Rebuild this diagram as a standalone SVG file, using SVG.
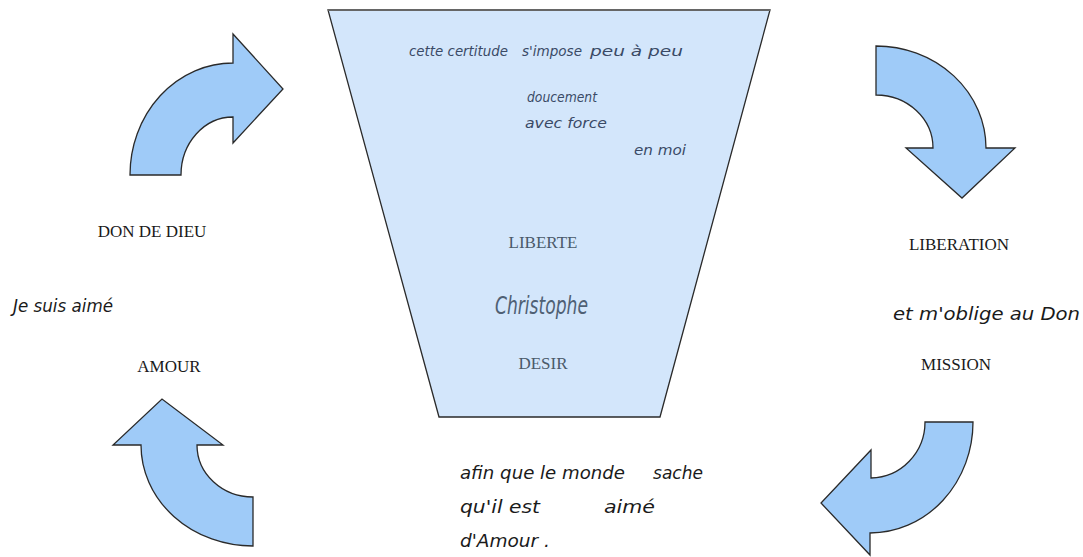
<svg xmlns="http://www.w3.org/2000/svg" width="1083" height="557" viewBox="0 0 1083 557">
<style>
.arrow{fill:#9fcbf8;stroke:#2a2a2a;stroke-width:1.3;stroke-linejoin:miter}
.lbl{font-family:"Liberation Serif",serif;font-size:17px;fill:#1a1a1a;text-anchor:middle}
.lbl2{font-family:"Liberation Serif",serif;font-size:17px;fill:#4a5a6a;text-anchor:middle}
.hw{font-family:"DejaVu Sans",sans-serif;font-style:italic;font-size:17px;fill:#1a1a1a}
.hw2{font-family:"DejaVu Sans",sans-serif;font-style:italic;font-size:14px;fill:#3a4a66}
</style>
<rect width="1083" height="557" fill="#ffffff"/>
<g id="funnel">
<polygon points="328,10 770,10 660,417 439,417" fill="#d3e6fb" stroke="#2a2a2a" stroke-width="1.3"/>
<line x1="328" y1="10" x2="770" y2="10" stroke="#666" stroke-width="2.2"/>
<text class="hw2" x="409" y="56" textLength="99" lengthAdjust="spacingAndGlyphs">cette certitude</text>
<text class="hw2" x="522" y="56" textLength="60" lengthAdjust="spacingAndGlyphs">s'impose</text>
<text class="hw2" x="590" y="56" textLength="93" lengthAdjust="spacingAndGlyphs">peu à peu</text>
<text class="hw2" x="527" y="102" textLength="70" lengthAdjust="spacingAndGlyphs">doucement</text>
<text class="hw2" x="525" y="128" textLength="82" lengthAdjust="spacingAndGlyphs">avec force</text>
<text class="hw2" x="634" y="155" textLength="52" lengthAdjust="spacingAndGlyphs">en moi</text>
<text class="lbl2" x="543" y="248">LIBERTE</text>
<text x="495" y="314" font-family="DejaVu Sans,sans-serif" font-style="italic" font-size="24" fill="#4f6074" textLength="93" lengthAdjust="spacingAndGlyphs">Christophe</text>
<text class="lbl2" x="543" y="369">DESIR</text>
</g>
<g id="arrow-top-left"><path class="arrow" d="M130,175 A103,112 0 0 1 233,63 L233,34 L283,89 L233,143 L233,117 A52,58 0 0 0 181,175 Z"/></g>
<g id="arrow-top-right"><path class="arrow" d="M876,46 A110,102 0 0 1 986,148 L1015,148 L962,198 L906,148 L933,148 A57,53 0 0 0 876,95 Z"/></g>
<g id="arrow-bottom-right"><path class="arrow" d="M973,422 A103,111 0 0 1 870,533 L870,555 L821,503 L871,450 L871,478 A55,56 0 0 0 925,422 Z"/></g>
<g id="arrow-bottom-left"><path class="arrow" d="M253,546 A112,101 0 0 1 141,445 L113,445 L162,399 L223,445 L197,445 A56,52 0 0 0 253,497 Z"/></g>
<g id="don-de-dieu"><text class="lbl" x="152" y="237">DON DE DIEU</text></g>
<g id="je-suis-aime"><text class="hw" x="13" y="312" textLength="100" lengthAdjust="spacingAndGlyphs">Je suis aimé</text></g>
<g id="amour"><text class="lbl" x="169" y="372">AMOUR</text></g>
<g id="liberation"><text class="lbl" x="959" y="250">LIBERATION</text></g>
<g id="oblige"><text class="hw" x="893" y="320" textLength="187" lengthAdjust="spacingAndGlyphs">et m'oblige au Don</text></g>
<g id="mission"><text class="lbl" x="956" y="370">MISSION</text></g>
<g id="afin">
<text class="hw" x="460" y="479" textLength="165" lengthAdjust="spacingAndGlyphs">afin que le monde</text>
<text class="hw" x="653" y="479" textLength="50" lengthAdjust="spacingAndGlyphs">sache</text>
<text class="hw" x="460" y="513" textLength="80" lengthAdjust="spacingAndGlyphs">qu'il est</text>
<text class="hw" x="604" y="513" textLength="51" lengthAdjust="spacingAndGlyphs">aimé</text>
<text class="hw" x="460" y="547" textLength="90" lengthAdjust="spacingAndGlyphs">d'Amour .</text>
</g>
</svg>
